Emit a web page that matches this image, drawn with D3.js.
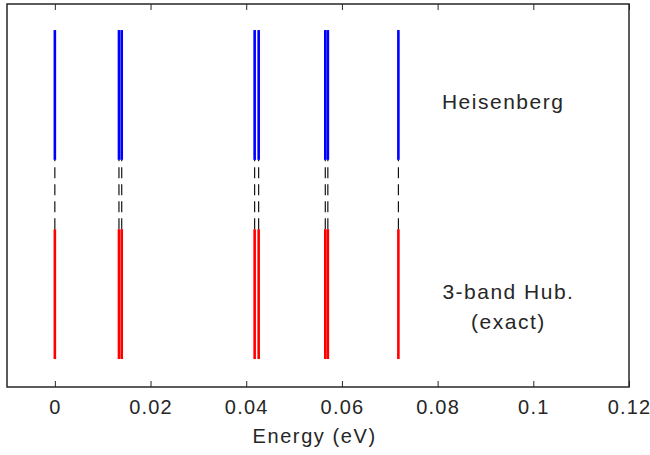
<!DOCTYPE html>
<html><head><meta charset="utf-8">
<script src="https://cdn.jsdelivr.net/npm/d3@7"></script>
<style>
body{margin:0;background:#fff;}
text{font-family:"Liberation Sans",Arial,Helvetica,sans-serif;fill:#262626;}
</style></head><body>
<svg id="chart" width="650" height="455"></svg>
<script>
// Energy levels (eV)
const heisenbergLevels = [0.0, 0.01340, 0.01398, 0.04176, 0.04260, 0.05652, 0.05706, 0.07180];
const hubbardLevels    = [0.0, 0.01340, 0.01398, 0.04176, 0.04260, 0.05652, 0.05706, 0.07180];
const xTicks = [0, 0.02, 0.04, 0.06, 0.08, 0.1, 0.12];
const xDomain = [-0.01, 0.12];
// vertical extents (arbitrary units) of the two level sets
const blueSpan = [0.593, 0.932];
const redSpan  = [0.073, 0.412];
const labels = [
  {lines:["Heisenberg"], x:0.0937, y:0.727},
  {lines:["3-band Hub.", "(exact)"], x:0.0948, y:0.230}
];

(function(){
const svg = d3.select("#chart");
const L=7, R=629, T=4, B=387;
const x = d3.scaleLinear().domain(xDomain).range([L,R]);
const y = d3.scaleLinear().domain([0,1]).range([B,T]);

// dashed connectors
svg.append("g").selectAll("line").data(hubbardLevels).join("line")
  .attr("x1",d=>x(d)).attr("x2",d=>x(d))
  .attr("y1",y(redSpan[1])).attr("y2",y(blueSpan[0]))
  .attr("stroke","#000").attr("stroke-width",1.1)
  .attr("stroke-dasharray","11,6");

// blue levels
svg.append("g").selectAll("line").data(heisenbergLevels).join("line")
  .attr("x1",d=>x(d)).attr("x2",d=>x(d))
  .attr("y1",y(blueSpan[0])).attr("y2",y(blueSpan[1]))
  .attr("stroke","#0000ff").attr("stroke-width",2.6);

// red levels
svg.append("g").selectAll("line").data(hubbardLevels).join("line")
  .attr("x1",d=>x(d)).attr("x2",d=>x(d))
  .attr("y1",y(redSpan[0])).attr("y2",y(redSpan[1]))
  .attr("stroke","#ff0000").attr("stroke-width",2.6);

// axes
const bottomAx = svg.append("g").attr("transform",`translate(0,${B})`)
  .call(d3.axisBottom(x).tickValues(xTicks).tickFormat(d=>String(d)).tickSizeInner(-6).tickSizeOuter(0).tickPadding(13));
bottomAx.select(".domain").remove();
bottomAx.selectAll("line").attr("stroke","#262626");
bottomAx.selectAll("text").style("font-size","20px").style("letter-spacing","1.2px")
  .attr("fill","#262626");
const topAx = svg.append("g").attr("transform",`translate(0,${T})`)
  .call(d3.axisTop(x).tickValues(xTicks).tickFormat("").tickSizeInner(-6).tickSizeOuter(0));
topAx.select(".domain").remove();
topAx.selectAll("line").attr("stroke","#262626");

svg.append("rect").attr("x",L).attr("y",T).attr("width",R-L).attr("height",B-T)
  .attr("fill","none").attr("stroke","#262626").attr("stroke-width",1.5);

svg.append("text").attr("x",x(0.0543)).attr("y",443).attr("text-anchor","middle")
  .style("font-size","20px").style("letter-spacing","1.6px").text("Energy (eV)");

labels.forEach(lb=>{
  const t = svg.append("text").attr("x",x(lb.x)).attr("y",y(lb.y)).attr("text-anchor","middle")
    .style("font-size","21px").style("letter-spacing","1.5px");
  lb.lines.forEach((s,i)=>t.append("tspan").attr("x",x(lb.x)).attr("dy",i?30:0).text(s));
});
})();
</script></body></html>
